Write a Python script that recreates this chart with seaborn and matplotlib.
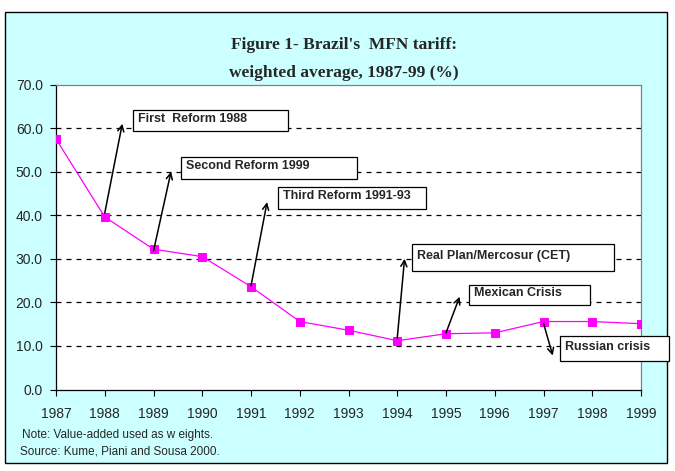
import matplotlib
matplotlib.use("Agg")
import matplotlib.pyplot as plt
import seaborn as sns
import pandas as pd
from matplotlib.patches import Rectangle

years = [1987, 1988, 1989, 1990, 1991, 1992, 1993, 1994, 1995, 1996, 1997, 1998, 1999]
tariff = [57.5, 39.6, 32.2, 30.5, 23.6, 15.6, 13.6, 11.2, 12.8, 13.0, 15.6, 15.6, 15.1]
yticks = [0, 10, 20, 30, 40, 50, 60, 70]

events = ["First  Reform 1988", "Second Reform 1999", "Third Reform 1991-93",
          "Real Plan/Mercosur (CET)", "Mexican Crisis", "Russian crisis"]
# arrow tail (near data point) and arrow tip, in data coords
tail_x = [1988.0, 1989.0, 1991.0, 1994.0, 1995.0, 1997.0]
tail_y = [40.5, 31.8, 23.8, 11.8, 13.0, 15.2]
tip_x = [1988.36, 1989.36, 1991.33, 1994.15, 1995.28, 1997.19]
tip_y = [61.0, 50.0, 43.0, 30.0, 21.3, 7.8]

df = pd.DataFrame({"year": years, "tariff": tariff})

sns.set_style("white")
plt.rcParams['font.family'] = ['Liberation Sans', 'DejaVu Sans']

AX_L, AX_R, AX_T, AX_B = 56, 641, 84.5, 389.5

fig = plt.figure(figsize=(6.75, 4.71), dpi=100)
fig.patch.set_facecolor("white")
# outer cyan frame
fig.patches.append(Rectangle((5/675, 1-463/471), 662/675, 451/471, transform=fig.transFigure,
                             facecolor="#CCFFFF", edgecolor="black", linewidth=1.0, zorder=-10))

ax = fig.add_axes([AX_L/675, 1-AX_B/471, (AX_R-AX_L)/675, (AX_B-AX_T)/471])
ax.set_facecolor("white")

sns.lineplot(data=df, x="year", y="tariff", ax=ax, color="#FF00FF", linewidth=0.9,
             marker="s", markersize=5.5, markeredgecolor="#FF00FF", markerfacecolor="#FF00FF", zorder=5)

ax.set_xlim(1987, 1999)
ax.set_ylim(0, 70)
ax.set_xticks(years)
ax.set_xticklabels([str(y) for y in years], fontsize=10)
ax.set_yticks(yticks)
ax.set_yticklabels([f"{v:.1f}" for v in yticks], fontsize=10)
ax.set_xlabel("")
ax.set_ylabel("")
ax.tick_params(axis="both", direction="out", length=4.5, width=0.8, color="black", left=True, bottom=True)
ax.tick_params(axis="x", pad=8)
ax.tick_params(axis="y", pad=5)

for v in yticks[1:-1]:
    ax.axhline(v, color="black", linestyle=(0, (4, 4)), linewidth=0.9, zorder=1)

for s in ["top", "right"]:
    ax.spines[s].set_color("#808080")
    ax.spines[s].set_linewidth(0.9)
for s in ["left", "bottom"]:
    ax.spines[s].set_color("black")
    ax.spines[s].set_linewidth(0.9)

# annotation boxes (pixel layout converted to axes fraction)
def px_box(x0, y0, x1, y1):
    ax0 = (x0 - AX_L) / (AX_R - AX_L)
    ax1 = (x1 - AX_L) / (AX_R - AX_L)
    ay0 = (AX_B - y1) / (AX_B - AX_T)
    ay1 = (AX_B - y0) / (AX_B - AX_T)
    return ax0, ay0, ax1 - ax0, ay1 - ay0

boxes_px = [(133, 110, 288, 131), (181, 157, 357, 179), (278, 187, 426, 209),
            (412, 244, 614, 271), (469, 285, 590, 305), (560, 336, 669, 361)]

for label, (x0, y0, x1, y1) in zip(events, boxes_px):
    bx, by, bw, bh = px_box(x0, y0, x1, y1)
    ax.add_patch(Rectangle((bx, by), bw, bh, transform=ax.transAxes, facecolor="white",
                           edgecolor="black", linewidth=0.9, clip_on=False, zorder=6))
    ax.text(bx + 5/585, by + bh/2 + 2/305, label, transform=ax.transAxes, fontsize=9,
            fontweight="bold", va="center", ha="left", zorder=7, clip_on=False)

for tx, ty, hx, hy in zip(tail_x, tail_y, tip_x, tip_y):
    ax.annotate("", xy=(hx, hy), xytext=(tx, ty),
                arrowprops=dict(arrowstyle="->", color="black", lw=1.1, shrinkA=0, shrinkB=0,
                                mutation_scale=11), zorder=8)

fig.text(344/675, 1-45/471, "Figure 1- Brazil's  MFN tariff:", ha="center", va="center",
         fontsize=12.5, fontweight="bold", family="Liberation Serif")
fig.text(344/675, 1-73/471, "weighted average, 1987-99 (%)", ha="center", va="center",
         fontsize=12.5, fontweight="bold", family="Liberation Serif")

fig.text(22/675, 1-435/471, "Note: Value-added used as w eights.", ha="left", va="center", fontsize=8.5)
fig.text(20/675, 1-452/471, "Source: Kume, Piani and Sousa 2000.", ha="left", va="center", fontsize=8.5)

fig.savefig("out.png", dpi=100, facecolor=fig.get_facecolor())
